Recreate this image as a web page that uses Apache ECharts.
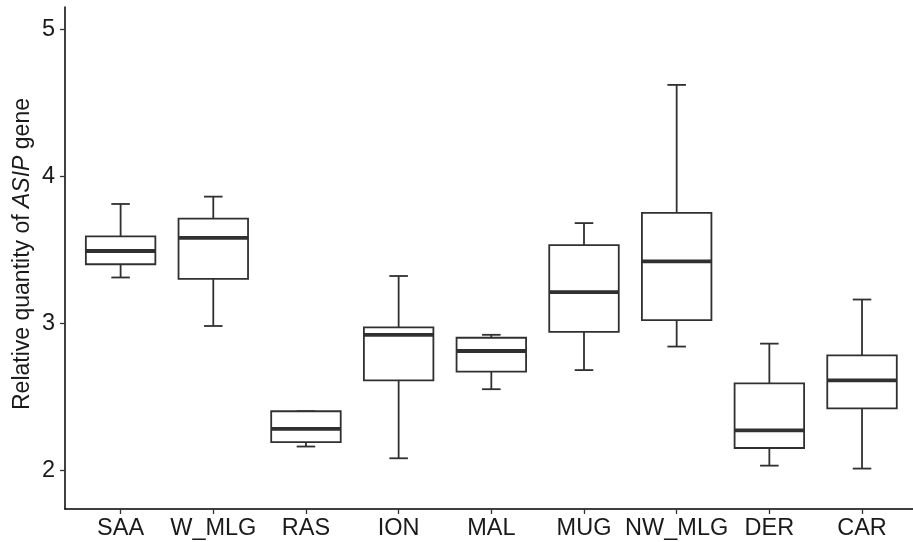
<!DOCTYPE html>
<html>
<head>
<meta charset="utf-8">
<script src="https://cdn.jsdelivr.net/npm/echarts@6/dist/echarts.min.js"></script>
<style>
html,body{margin:0;padding:0;background:#fff;}
#chart{width:913px;height:542px;}
</style>
</head>
<body>
<div id="chart"></div>
<script>
var categories = ['SAA','W_MLG','RAS','ION','MAL','MUG','NW_MLG','DER','CAR'];
var whiskerLow  = [3.31, 2.98, 2.16, 2.08, 2.55, 2.68, 2.84, 2.03, 2.01];
var q1          = [3.40, 3.30, 2.19, 2.61, 2.67, 2.94, 3.02, 2.15, 2.42];
var median      = [3.49, 3.58, 2.28, 2.92, 2.81, 3.21, 3.42, 2.27, 2.61];
var q3          = [3.59, 3.71, 2.40, 2.97, 2.90, 3.53, 3.75, 2.59, 2.78];
var whiskerHigh = [3.81, 3.86, 2.40, 3.32, 2.92, 3.68, 4.62, 2.86, 3.16];
var yTicks = [2, 3, 4, 5];

var FONT = '"Liberation Sans", Arial, Helvetica, sans-serif';
var positions = categories.map(function (c, i) { return i + 1; });
var data = categories.map(function (c, i) {
  return [i + 1, whiskerLow[i], q1[i], median[i], q3[i], whiskerHigh[i]];
});

var chart = echarts.init(document.getElementById('chart'), null, {renderer: 'canvas'});
var LINE = '#303030';

function renderItem(params, api) {
  var x = api.value(0);
  var pLow = api.coord([x, api.value(1)]);
  var pQ1 = api.coord([x, api.value(2)]);
  var pMed = api.coord([x, api.value(3)]);
  var pQ3 = api.coord([x, api.value(4)]);
  var pHigh = api.coord([x, api.value(5)]);
  var boxW = api.size([0.75, 0])[0];
  var capW = api.size([0.2, 0])[0];
  var cx = pMed[0];
  var st = {stroke: LINE, lineWidth: 1.8, fill: null};
  var children = [];
  children.push({type: 'line', shape: {x1: cx, y1: pQ3[1], x2: cx, y2: pHigh[1]}, style: st});
  children.push({type: 'line', shape: {x1: cx - capW / 2, y1: pHigh[1], x2: cx + capW / 2, y2: pHigh[1]}, style: st});
  children.push({type: 'line', shape: {x1: cx, y1: pQ1[1], x2: cx, y2: pLow[1]}, style: st});
  children.push({type: 'line', shape: {x1: cx - capW / 2, y1: pLow[1], x2: cx + capW / 2, y2: pLow[1]}, style: st});
  children.push({type: 'rect', shape: {x: cx - boxW / 2, y: pQ3[1], width: boxW, height: pQ1[1] - pQ3[1]},
    style: {stroke: LINE, lineWidth: 1.8, fill: '#ffffff'}});
  children.push({type: 'line', shape: {x1: cx - boxW / 2, y1: pMed[1], x2: cx + boxW / 2, y2: pMed[1]},
    style: {stroke: LINE, lineWidth: 3.8}});
  return {type: 'group', children: children};
}

var option = {
  backgroundColor: '#ffffff',
  animation: false,
  grid: {left: 65, right: 0, top: 7, bottom: 33, containLabel: false},
  xAxis: {
    type: 'value', min: 0.4, max: 9.55,
    splitLine: {show: false},
    axisLine: {show: true, lineStyle: {color: '#000', width: 1.5}},
    axisTick: {show: true, customValues: positions, length: 5, lineStyle: {color: '#333', width: 1.3}},
    axisLabel: {customValues: positions, margin: 8, color: '#1a1a1a', fontSize: 23.5, fontFamily: FONT,
      formatter: function (v) { return categories[Math.round(v) - 1]; }}
  },
  yAxis: {
    type: 'value', min: 1.735, max: 5.15,
    splitLine: {show: false},
    axisLine: {show: true, lineStyle: {color: '#000', width: 1.5}},
    axisTick: {show: true, customValues: yTicks, length: 5, lineStyle: {color: '#333', width: 1.3}},
    axisLabel: {customValues: yTicks, margin: 10, color: '#1a1a1a', fontSize: 23.5, fontFamily: FONT}
  },
  graphic: [{
    type: 'text', x: 23, y: 254, rotation: Math.PI / 2,
    style: {
      text: '{n|Relative quantity of }{i|ASIP}{n| gene}',
      align: 'center', verticalAlign: 'middle',
      fontSize: 23, fontFamily: FONT, fill: '#1a1a1a',
      rich: {
        n: {fontSize: 23, fontFamily: FONT, fill: '#1a1a1a'},
        i: {fontSize: 23, fontFamily: FONT, fill: '#1a1a1a', fontStyle: 'italic'}
      }
    }
  }],
  series: [{
    type: 'custom',
    renderItem: renderItem,
    encode: {x: 0, y: [1, 2, 3, 4, 5]},
    data: data,
    clip: false
  }]
};
chart.setOption(option);
</script>
</body>
</html>
